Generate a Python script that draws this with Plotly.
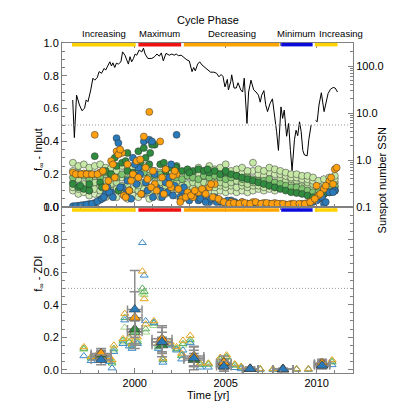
import plotly.graph_objects as go
from plotly.subplots import make_subplots

# ---- cycle phases
phase_names = ["Increasing", "Maximum", "Decreasing", "Minimum", "Increasing"]
phase_start = [1996.55, 2000.2, 2002.7, 2008.05, 2009.9]
phase_end = [2000.05, 2002.55, 2007.95, 2009.78, 2011.15]
phase_colors = ["#ffd200", "#ee1111", "#ffa500", "#0a0adc", "#ffd200"]
label_shift = [0, 0, 0, 0, 0.8]

threshold = 0.5

# ---- sunspot number (None = data gap)
ssn_year = [1996.59, 1996.68, 1996.80, 1996.96, 1997.10, 1997.24, 1997.33, 1997.43, 1997.58, 1997.70,
            1997.80, 1997.94, 1998.04, 1998.17, 1998.32, 1998.40, 1998.54, 1998.63, 1998.72, 1998.80,
            1998.90, 1998.99, 1999.10, 1999.24, 1999.33, 1999.46, 1999.56, 1999.65, 1999.74, 1999.83,
            1999.93, 2000.02, 2000.11, 2000.24, 2000.39, 2000.48, 2000.57, 2000.72, 2000.94, 2001.09,
            2001.22, 2001.35, 2001.46, 2001.57, 2001.72, 2001.90, 2002.04, 2002.17, 2002.28, 2002.40,
            2002.55, 2002.69, 2002.87, 2003.00, 2003.15, 2003.24, 2003.33, 2003.46, 2003.57, 2003.70,
            2003.85, 2003.98, 2004.17, 2004.35, 2004.50, 2004.63, 2004.75, 2004.85, 2004.96, 2005.09,
            2005.15, 2005.28, 2005.33, 2005.46, 2005.58, 2005.68, 2005.83, 2005.93, 2006.02, 2006.17,
            2006.26, 2006.39, 2006.54, 2006.67, 2006.80, 2006.90, 2006.98, 2007.10, 2007.20, 2007.30,
            2007.44, 2007.57, 2007.70, 2007.80, 2007.90, 2008.04, 2008.13, 2008.22, 2008.35, 2008.46,
            2008.56, 2008.65, 2008.78, 2008.87, 2008.96, 2009.06, 2009.15, 2009.24, 2009.33, 2009.48,
            2009.57, 2009.70, 2009.82, 2009.94, 2010.03, 2010.13, 2010.26, 2010.41, 2010.50, 2010.63,
            2010.76, 2010.91, 2011.02, 2011.15]
ssn_val = [18.9, 3.0, 24, 14.8, 11.2, 12.6, 19, 17.4, 31, 55,
           50, 57, 76, 70, 89, 82, 105, 123, 100, 117,
           93, 115, 110, 123, 200, 170, 135, 110, 158, 123,
           145, 180, 170, 219, 200, 240, 180, 145, 145, 158,
           180, 162, 190, 129, 186, 170, 180, 170, 180, 166,
           170, 151, 135, 128, 76, 93, 79, 110, 123, 105,
           93, 85, 74, 74, 70, 59, 66, 60, 36, 52,
           31, 47, 65, 34, 34, 44, 31, 28, 55, 6.0,
           28, 50, 31, 28, 24, 17, 24, 30, 15, 10.7,
           16, 20, 8.3, 4.0, 1.6, 13.5, 7.7, 11.5, 3.2, 6.0,
           1.6, 0.6, 2.7, 4.3, 3.3, 6.5, 4.0, 1.6, 1.28, 1.23,
           2.7, 5.6, None, 7.0, 6.5, 14.8, 27, 10.7, 16, 26,
           32, 35, 34, 28]

# ---- f_oo input (top panel), common time grid
t_in = [1996.6, 1996.9, 1997.2, 1997.5, 1997.8, 1998.1, 1998.4, 1998.7, 1999.0, 1999.3,
        1999.6, 1999.9, 2000.2, 2000.5, 2000.8, 2001.1, 2001.4, 2001.7, 2002.0, 2002.3,
        2002.6, 2002.9, 2003.2, 2003.5, 2003.8, 2004.1, 2004.4, 2004.7, 2005.0, 2005.3,
        2005.6, 2005.9, 2006.2, 2006.5, 2006.8, 2007.1, 2007.4, 2007.7, 2008.0, 2008.3,
        2008.6, 2008.9, 2009.2, 2009.5, 2009.8, 2010.1, 2010.4, 2010.7, 2011.0]
in_light_lo = [0.10, 0.08, 0.09, 0.07, 0.08, 0.07, 0.06, 0.07, 0.06, 0.08,
               0.05, 0.07, 0.06, 0.08, 0.05, 0.07, 0.06, 0.08, 0.09, 0.07,
               0.08, 0.09, 0.10, 0.08, 0.09, 0.10, 0.09, 0.10, 0.09, 0.10,
               0.09, 0.10, 0.09, 0.10, 0.11, 0.10, 0.11, 0.10, 0.12, 0.13,
               0.12, 0.13, 0.12, 0.11, 0.08, 0.07, 0.08, 0.09, 0.10]
in_light_b = [0.12, 0.11, 0.12, 0.10, 0.11, 0.10, 0.11, 0.10, 0.11, 0.10,
              0.09, 0.11, 0.10, 0.11, 0.09, 0.10, 0.11, 0.10, 0.11, 0.12,
              0.11, 0.12, 0.12, 0.11, 0.12, 0.13, 0.12, 0.13, 0.12, 0.13,
              0.12, 0.13, 0.12, 0.13, 0.13, 0.12, 0.13, 0.12, 0.14, 0.14,
              0.15, 0.14, 0.14, 0.13, 0.11, 0.10, 0.11, 0.12, 0.12]
in_light_mid = [0.15, 0.17, 0.14, 0.16, 0.15, 0.13, 0.16, 0.14, 0.15, 0.13,
                0.14, 0.16, 0.13, 0.15, 0.12, 0.14, 0.15, 0.13, 0.14, 0.15,
                0.13, 0.14, 0.15, 0.14, 0.15, 0.14, 0.16, 0.15, 0.14, 0.15,
                0.16, 0.15, 0.14, 0.15, 0.16, 0.15, 0.16, 0.15, 0.17, 0.16,
                0.17, 0.16, 0.16, 0.15, 0.14, 0.12, 0.13, 0.14, 0.15]
in_light_c = [0.22, 0.21, 0.20, 0.21, 0.19, 0.21, 0.20, 0.19, 0.20, 0.18,
              0.19, 0.21, 0.18, 0.20, 0.19, 0.18, 0.18, 0.19, 0.18, 0.19,
              0.18, 0.19, 0.18, 0.20, 0.19, 0.20, 0.19, 0.21, 0.20, 0.19,
              0.20, 0.21, 0.19, 0.22, 0.20, 0.19, 0.21, 0.20, 0.20, 0.19,
              0.18, 0.18, 0.17, 0.17, 0.16, 0.14, 0.15, 0.16, 0.17]
in_light_hi = [0.27, 0.25, 0.26, 0.24, 0.25, 0.26, 0.24, 0.24, 0.22, 0.25,
               0.23, 0.24, 0.22, 0.25, 0.23, 0.22, 0.21, 0.23, 0.22, 0.21,
               0.20, 0.22, 0.21, 0.24, 0.22, 0.25, 0.23, 0.24, 0.26, 0.22,
               0.23, 0.24, 0.22, 0.27, 0.23, 0.22, 0.24, 0.23, 0.22, 0.21,
               0.20, 0.20, 0.19, 0.19, 0.18, 0.16, 0.17, 0.18, 0.19]
in_med = [0.18, 0.20, 0.19, 0.17, 0.20, 0.18, 0.21, 0.19, 0.18, 0.20,
          0.17, 0.20, 0.19, 0.21, 0.18, 0.19, 0.20, 0.18, 0.17, 0.18,
          0.17, 0.19, 0.18, 0.17, 0.19, 0.18, 0.19, 0.18, 0.17, 0.18,
          0.19, 0.17, 0.18, 0.17, 0.16, 0.16, 0.17, 0.15, 0.14, 0.13,
          0.12, 0.12, 0.11, 0.10, 0.09, 0.09, 0.10, 0.12, 0.13]
in_dark = [0.14, 0.12, 0.11, 0.10, 0.31, 0.15, 0.22, 0.20, 0.25, 0.27,
           0.22, 0.21, 0.34, 0.36, 0.26, 0.38, 0.26, 0.22, 0.24, 0.25,
           0.22, 0.23, 0.22, 0.23, 0.22, 0.21, 0.22, 0.20, 0.21, 0.20,
           0.19, 0.18, 0.17, 0.16, 0.15, 0.14, 0.13, 0.12, 0.11, 0.10,
           0.09, 0.085, 0.08, 0.07, 0.06, 0.07, 0.08, 0.09, 0.10]
in_blue = [0.005, 0.008, 0.012, 0.018, 0.025, 0.045, 0.08, 0.09, 0.42, 0.12,
           0.16, 0.30, 0.24, 0.40, 0.41, 0.20, 0.10, 0.15, 0.26, 0.44,
           0.10, 0.06, 0.08, 0.04, 0.05, 0.03, 0.06, 0.03, 0.02, 0.04,
           0.02, 0.03, 0.02, 0.015, 0.02, 0.015, 0.02, 0.01, 0.01, 0.008,
           0.006, 0.005, 0.006, 0.008, 0.03, 0.05, 0.02, 0.09, 0.10]
in_orange = [0.21, 0.20, 0.205, 0.20, 0.44, 0.21, 0.12, 0.28, 0.34, 0.33,
             0.26, 0.20, 0.18, 0.43, 0.58, 0.14, 0.40, 0.23, 0.12, 0.20,
             0.05, 0.09, 0.06, 0.09, 0.10, 0.12, 0.14, 0.04, 0.02, 0.03,
             0.02, 0.03, 0.02, 0.03, 0.02, 0.025, 0.02, 0.025, 0.02, 0.015,
             0.02, 0.015, 0.02, 0.025, 0.04, 0.07, 0.11, 0.16, 0.23]

# extra scattered points (year, value)
blue_x_year = [1996.75, 1997.05, 1997.35, 1997.65, 1997.95, 1998.2, 1998.3, 1998.5, 1998.6, 1998.8,
               1999.1, 1999.2, 1999.5, 1999.7, 1999.8, 2000.0, 2000.1, 2000.3, 2000.4, 2000.6,
               2000.7, 2000.95, 2001.0, 2001.2, 2001.5, 2001.8, 2001.9, 2002.1, 2002.2, 2002.5,
               2002.7, 2003.0, 2003.3, 2003.6, 2003.9, 2004.2, 2004.5, 2005.1, 2005.5, 2006.0,
               2010.0, 2010.3, 2010.5, 2010.9]
blue_x_val = [0.006, 0.01, 0.015, 0.02, 0.035, 0.05, 0.06, 0.12, 0.09, 0.06,
              0.39, 0.12, 0.08, 0.10, 0.05, 0.26, 0.14, 0.20, 0.08, 0.15,
              0.10, 0.40, 0.06, 0.12, 0.06, 0.09, 0.18, 0.07, 0.13, 0.06,
              0.12, 0.04, 0.07, 0.05, 0.03, 0.05, 0.03, 0.04, 0.03, 0.02,
              0.04, 0.06, 0.03, 0.09]
orange_x_year = [1996.75, 1997.05, 1997.35, 1997.65, 1997.95, 1998.25, 1998.55, 1998.8, 1998.9, 1999.1,
                 1999.2, 1999.4, 1999.5, 1999.7, 1999.8, 2000.1, 2000.3, 2000.35, 2000.6, 2000.7,
                 2000.9, 2001.0, 2001.2, 2001.5, 2001.6, 2001.9, 2002.1, 2002.2, 2002.4, 2002.5,
                 2002.8, 2003.1, 2003.3, 2003.7, 2003.9, 2004.2, 2004.3, 2004.6, 2004.9, 2005.2,
                 2005.45, 2005.75, 2006.05, 2006.35, 2006.65, 2006.95, 2007.25, 2007.55, 2007.85, 2008.15,
                 2008.45, 2008.75, 2009.05, 2009.35, 2009.65, 2009.9, 2010.0, 2010.2, 2010.5, 2010.8,
                 2010.9, 2011.1]
orange_x_val = [0.20, 0.20, 0.20, 0.20, 0.20, 0.22, 0.16, 0.26, 0.18, 0.32,
                0.35, 0.07, 0.06, 0.10, 0.16, 0.28, 0.29, 0.08, 0.24, 0.17,
                0.12, 0.22, 0.10, 0.18, 0.08, 0.14, 0.19, 0.22, 0.11, 0.03,
                0.06, 0.07, 0.10, 0.11, 0.08, 0.14, 0.06, 0.05, 0.03, 0.02,
                0.025, 0.02, 0.025, 0.02, 0.03, 0.02, 0.025, 0.02, 0.02, 0.02,
                0.015, 0.02, 0.02, 0.02, 0.03, 0.05, 0.13, 0.08, 0.13, 0.18,
                0.14, 0.24]
dark_x_year = [1997.0, 1997.5, 1998.2, 1998.9, 1999.1, 1999.5, 1999.6, 2000.3, 2000.6, 2000.85,
               2000.95, 2001.6, 2002.25, 2003.0, 2004.0, 2005.0]
dark_x_val = [0.13, 0.14, 0.12, 0.30, 0.10, 0.28, 0.33, 0.27, 0.30, 0.33,
              0.38, 0.27, 0.24, 0.21, 0.23, 0.22]

# ---- f_oo ZDI (bottom panel): binned means
bin_year = [1998.15, 2000.0, 2001.5, 2003.25, 2004.9, 2006.35, 2008.15, 2010.3]
bin_xerr = [0.55, 0.4, 0.55, 0.55, 0.4, 0.42, 0.55, 0.42]
zdi_blue = [0.06, 0.37, 0.17, 0.07, 0.02, 0.005, 0.003, 0.025]
zdi_blue_err = [0.03, 0.24, 0.09, 0.07, 0.03, 0.01, 0.005, 0.02]
zdi_dark = [0.08, 0.25, 0.15, 0.06, 0.03, 0.005, 0.003, 0.03]
zdi_dark_err = [0.03, 0.05, 0.05, 0.04, 0.03, 0.01, 0.005, 0.02]
zdi_med = [0.09, 0.23, 0.17, 0.07, 0.035, 0.005, 0.003, 0.035]
zdi_med_err = [0.03, 0.08, 0.06, 0.05, 0.03, 0.01, 0.005, 0.02]
zdi_orange = [0.10, 0.32, 0.19, 0.085, 0.045, 0.005, 0.003, 0.04]
zdi_orange_err = [0.03, 0.16, 0.08, 0.06, 0.04, 0.01, 0.005, 0.025]

# individual ZDI maps
map_year = [1997.2, 1997.6, 1997.9, 1998.6, 1998.75, 1998.85, 1999.35, 1999.45, 1999.7, 1999.85,
            2000.15, 2000.42, 2000.52, 2000.6, 2001.05, 2001.3, 2001.55, 2001.95, 2002.3, 2002.65,
            2002.58, 2003.05, 2003.6, 2004.05, 2004.7, 2005.05, 2005.5, 2005.85, 2006.9, 2007.6,
            2008.9, 2009.55, 2010.2, 2010.85]
map_orange = [0.14, 0.08, 0.09, 0.08, 0.06, 0.15, 0.19, 0.345, 0.20, 0.16,
              0.20, 0.605, 0.435, 0.28, 0.30, 0.16, 0.07, 0.17, 0.14, 0.18,
              0.10, 0.21, 0.04, 0.04, 0.075, 0.09, 0.035, 0.02, 0.005, 0.005,
              0.004, 0.004, 0.05, 0.06]
map_green = [0.13, 0.07, 0.08, 0.07, 0.04, 0.13, 0.18, 0.32, 0.17, 0.15,
             0.17, 0.50, 0.48, 0.25, 0.285, 0.14, 0.06, 0.155, 0.13, 0.16,
             0.085, 0.185, 0.03, 0.035, 0.065, 0.08, 0.03, 0.015, 0.004, 0.004,
             0.003, 0.003, 0.04, 0.05]
map_light = [0.125, 0.075, 0.085, 0.06, 0.05, 0.12, 0.17, 0.26, 0.19, 0.14,
             0.18, 0.47, 0.46, 0.23, 0.27, 0.15, 0.065, 0.16, 0.125, 0.15,
             0.09, 0.175, 0.035, 0.03, 0.06, 0.075, 0.025, 0.012, 0.003, 0.003,
             0.003, 0.003, 0.035, 0.045]
map_blue = [0.085, 0.055, 0.07, 0.05, 0.01, 0.11, 0.16, 0.305, 0.145, 0.13,
            0.16, 0.78, 0.58, 0.30, 0.29, 0.13, 0.045, 0.15, 0.12, 0.12,
            0.065, 0.165, 0.015, 0.015, 0.03, 0.04, 0.012, 0.005, 0.002, 0.002,
            0.002, 0.002, 0.02, 0.03]

FONT = "Liberation Sans, Arial, sans-serif"
AXC = "#808080"
EDGE = dict(width=0.6, color="rgba(50,50,50,0.85)")

fig = make_subplots(rows=2, cols=1, shared_xaxes=False, vertical_spacing=0,
                    row_heights=[0.497, 0.503],
                    specs=[[{"secondary_y": True}], [{}]])

# top panel scatter
top_series = [
    (t_in, in_light_lo, "#d3edb8"),
    (t_in, in_light_b, "#c4e6a6"),
    (t_in, in_light_mid, "#b9e09c"),
    (t_in, in_light_c, "#cdeab0"),
    (t_in, in_light_hi, "#c6e8a6"),
    (t_in, in_med, "#7fc56f"),
    (t_in, in_dark, "#2f8c3f"),
    (dark_x_year, dark_x_val, "#2f8c3f"),
    (t_in, in_blue, "#2a7ab9"),
    (blue_x_year, blue_x_val, "#2a7ab9"),
    (t_in, in_orange, "#ffa00f"),
    (orange_x_year, orange_x_val, "#ffa00f"),
]
for xs, ys, col in top_series:
    fig.add_trace(go.Scatter(x=xs, y=ys, mode="markers", showlegend=False,
                             marker=dict(size=7, color=col, line=EDGE)),
                  row=1, col=1, secondary_y=False)

fig.add_trace(go.Scatter(x=ssn_year, y=ssn_val, mode="lines", showlegend=False,
                         line=dict(color="black", width=1), connectgaps=False),
              row=1, col=1, secondary_y=True)

# bottom panel: individual maps (open triangles)
for ys, col in [(map_light, "#a5d68a"), (map_green, "#58b25c"),
                (map_blue, "#3d8bc9"), (map_orange, "#e6a21c")]:
    fig.add_trace(go.Scatter(x=map_year, y=ys, mode="markers", showlegend=False,
                             marker=dict(symbol="triangle-up-open", size=7, color=col,
                                         line=dict(width=1, color=col))),
                  row=2, col=1)

# bottom panel: binned means with error bars
for ys, err, col in [(zdi_med, zdi_med_err, "#74c476"), (zdi_dark, zdi_dark_err, "#2f8c3f"),
                     (zdi_orange, zdi_orange_err, "#ffa00f"), (zdi_blue, zdi_blue_err, "#2a7ab9")]:
    fig.add_trace(go.Scatter(
        x=bin_year, y=ys, mode="markers", showlegend=False,
        marker=dict(symbol="triangle-up", size=10, color=col, line=dict(width=0.6, color="#333333")),
        error_y=dict(type="data", array=err, color="#8c8c8c", thickness=1.5, width=5),
        error_x=dict(type="data", array=bin_xerr, color="#8c8c8c", thickness=1.5, width=4)),
        row=2, col=1)

# threshold lines
for r in (1, 2):
    fig.add_hline(y=threshold, row=r, col=1, line=dict(color="#999999", width=1, dash="1px,2px"))

# phase bars + labels
for yref, ypos in (("y domain", 0.99), ("y3 domain", 0.982)):
    for s, e, c in zip(phase_start, phase_end, phase_colors):
        fig.add_shape(type="line", xref="x", yref=yref, x0=s, x1=e, y0=ypos, y1=ypos,
                      line=dict(color=c, width=3.5), layer="above")
for name, s, e, sh in zip(phase_names, phase_start, phase_end, label_shift):
    fig.add_annotation(x=(s + e) / 2 + sh, y=1.0303, xref="x", yref="paper", text=name,
                       showarrow=False, font=dict(size=9.5, color="black", family=FONT),
                       yanchor="middle")
fig.add_annotation(x=0.5, y=1.0697, xref="paper", yref="paper", text="Cycle Phase",
                   showarrow=False, font=dict(size=11, color="black", family=FONT), yanchor="middle")

# axis titles
fig.add_annotation(x=-0.11, y=0.75, xref="paper", yref="paper", text="f<sub>∞</sub> - Input",
                   textangle=-90, showarrow=False, font=dict(size=11, color="black", family=FONT))
fig.add_annotation(x=-0.11, y=0.24, xref="paper", yref="paper", text="f<sub>∞</sub> - ZDI",
                   textangle=-90, showarrow=False, font=dict(size=11, color="black", family=FONT))
fig.add_annotation(x=1.127, y=0.75, xref="paper", yref="paper", text="Sunspot number SSN",
                   textangle=-90, showarrow=False, font=dict(size=11, color="black", family=FONT))
fig.add_annotation(x=0.5, y=-0.067, xref="paper", yref="paper", text="Time [yr]",
                   showarrow=False, font=dict(size=11, color="black", family=FONT), yanchor="middle")

common = dict(showline=True, linecolor=AXC, linewidth=1, ticks="inside", tickcolor=AXC,
              ticklen=5, showgrid=False, zeroline=False, automargin=False,
              tickfont=dict(size=11, color="black", family=FONT))
# make_subplots shrinks the x domain for the secondary y axis; use the full width
xcommon = dict(common, range=[1996, 2012], tick0=2000, dtick=5, mirror="ticks", domain=[0, 1],
               minor=dict(dtick=1, ticks="inside", ticklen=3, tickcolor=AXC))
fig.update_layout(
    xaxis=dict(xcommon, showticklabels=False),
    xaxis2=dict(xcommon),
    yaxis=dict(common, range=[0, 1.0], dtick=0.2, tickformat=".1f", mirror=False,
               minor=dict(dtick=0.05, ticks="inside", ticklen=3, tickcolor=AXC)),
    yaxis2=dict(common, type="log", range=[-1, 2.49], dtick=1, tickformat=".1f",
                minor=dict(dtick="D1", ticks="inside", ticklen=3, tickcolor=AXC)),
    yaxis3=dict(common, range=[-0.02, 1.0], dtick=0.2, tickformat=".1f", mirror="ticks",
                minor=dict(dtick=0.05, ticks="inside", ticklen=3, tickcolor=AXC)),
    # page body adds an 8px margin; keep the figure small enough that nothing overflows
    width=398, height=398,
    margin=dict(l=54, r=53, t=35, b=33),
    plot_bgcolor="white", paper_bgcolor="white",
    font=dict(family=FONT, size=11, color="black"),
)

fig.write_html("out.html")
